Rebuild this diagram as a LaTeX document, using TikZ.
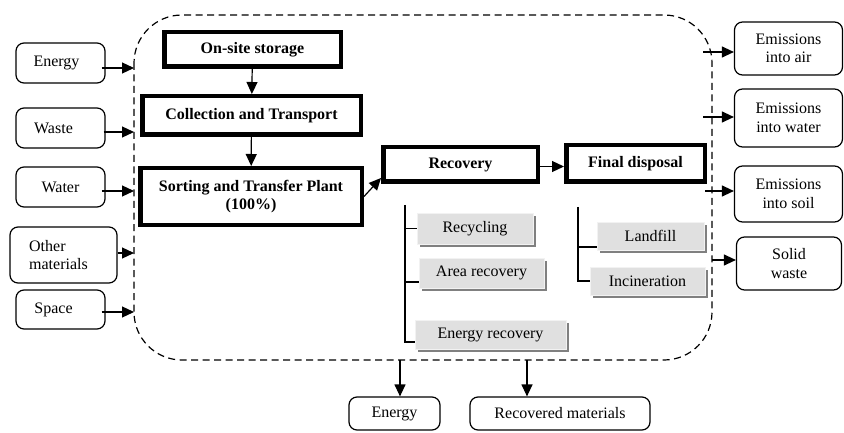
\documentclass[tikz,border=0pt]{standalone}
\usepackage{fontspec}
\setmainfont{Liberation Serif}
\usetikzlibrary{arrows.meta,calc,shadows}
\begin{document}
\begin{tikzpicture}[x=1pt,y=-1pt,
  every node/.style={font=\fontsize{16}{18.5}\selectfont},
  thickbox/.style={draw, line width=4.5pt, font=\fontsize{16}{18.5}\selectfont\bfseries, inner sep=0pt, align=center},
  inbox/.style={draw, line width=1.2pt, rounded corners=8pt, inner sep=0pt, align=center},
  graybox/.style={fill=black!12, draw=black!5, line width=0.8pt, inner sep=0pt, drop shadow={shadow xshift=3pt, shadow yshift=-3pt, fill=black!50, opacity=1}},
  arr/.style={line width=1.2pt, -{Triangle[length=12pt,width=11pt]}},
  tree/.style={line width=1.2pt}
]
\useasboundingbox (0,0) rectangle (844,433);
% system boundary
\draw[dash pattern=on 7pt off 4.5pt, line width=1.2pt, rounded corners=48pt] (134,15) rectangle (712,360);

% main process boxes
\node[thickbox, minimum width=176.5pt, minimum height=34.5pt] (onsite) at (252.5,49.5) {On-site storage};
\node[thickbox, minimum width=218.5pt, minimum height=38.5pt] (collect) at (251.5,115.5) {Collection and Transport};
\node[thickbox, minimum width=221.5pt, minimum height=56.5pt] (sort) at (251,196.5) {Sorting and Transfer Plant\\(100\%)};
\node[thickbox, minimum width=154.5pt, minimum height=34.5pt] (recov) at (460.5,164.5) {Recovery};
\node[thickbox, minimum width=138.5pt, minimum height=36.5pt] (final) at (635.5,163.5) {Final disposal};

\draw[arr] (onsite) -- (collect);
\draw[arr] (collect) -- (sort);
\draw[arr] (sort.east) -- ([yshift=6pt]recov.south west);
\draw[arr] ([yshift=-2pt]recov.east) -- ([yshift=-2pt]recov.east -| final.west);

% sub-options
\node[graybox, minimum width=116pt, minimum height=31pt] (recyc) at (475,228.5) {Recycling};
\node[graybox, minimum width=125pt, minimum height=30pt] (area) at (481.5,273) {Area recovery};
\node[graybox, minimum width=151pt, minimum height=29pt] (erec) at (490.5,334.5) {Energy recovery};
\node[graybox, minimum width=107pt, minimum height=28pt] (landf) at (650.5,236) {Landfill};
\node[graybox, minimum width=115pt, minimum height=28pt] (incin) at (647.5,281) {Incineration};

\coordinate (rtop) at (405,205);
\coordinate (ftop) at (578,207);
\draw[tree] (rtop) |- ([yshift=-7.5pt]erec.west);
\draw[tree] (rtop |- recyc.west) -- (recyc.west);
\draw[tree] ([yshift=-9pt]rtop |- area.west) -- ([yshift=-9pt]area.west);
\draw[tree] (ftop) |- (incin.west);
\draw[tree] ([yshift=-11pt]ftop |- landf.west) -- ([yshift=-11pt]landf.west);

% inputs
\node[inbox, minimum width=89pt, minimum height=40pt] (in1) at (60.5,63) {Energy\hspace*{8pt}};
\node[inbox, minimum width=89pt, minimum height=40pt] (in2) at (60.5,128) {Waste\hspace*{14pt}};
\node[inbox, minimum width=89pt, minimum height=40pt] (in3) at (60.5,187) {Water};
\node[inbox, minimum width=107pt, minimum height=56pt, align=left] (in4) at (63.5,255) {Other\\materials\hspace*{10pt}};
\node[inbox, minimum width=89pt, minimum height=39pt] (in5) at (60.5,309.5) {Space\hspace*{14pt}};

\coordinate (b1) at (134,68);
\coordinate (b2) at (134,132);
\coordinate (b3) at (134,191);
\coordinate (b4) at (134,253);
\coordinate (b5) at (134,312);
\draw[arr] ([xshift=-4pt]in1.east |- b1) -- (b1);
\draw[arr] ([xshift=-2pt]in2.east |- b2) -- (b2);
\draw[arr] ([xshift=-4pt]in3.east |- b3) -- (b3);
\draw[arr] (in4.east |- b4) -- (b4);
\draw[arr] ([xshift=-4pt]in5.east |- b5) -- (b5);

% outputs right
\node[inbox, minimum width=108pt, minimum height=53pt] (out1) at (788.5,48.5) {Emissions\\into air};
\node[inbox, minimum width=108pt, minimum height=58pt] (out2) at (788.5,118) {Emissions\\into water};
\node[inbox, minimum width=108pt, minimum height=56pt] (out3) at (788.5,194) {Emissions\\into soil};
\node[inbox, minimum width=105pt, minimum height=53pt] (out4) at (789,263.5) {Solid\\waste};

\coordinate (o1) at (703,52);
\coordinate (o2) at (703,117);
\coordinate (o3) at (705,191);
\coordinate (o4) at (712,260);
\draw[arr] (o1) -- (o1 -| out1.west);
\draw[arr] (o2) -- (o2 -| out2.west);
\draw[arr] (o3) -- (o3 -| out3.west);
\draw[arr] (o4) -- (o4 -| out4.west);

% outputs bottom
\node[inbox, minimum width=91pt, minimum height=33pt] (bo1) at (394.5,413.5) {Energy};
\node[inbox, minimum width=180pt, minimum height=33pt] (bo2) at (560,413.5) {Recovered materials};
\coordinate (d1) at (400,360);
\coordinate (d2) at (527,360);
\draw[arr] (d1) -- (d1 |- bo1.north);
\draw[arr] (d2) -- (d2 |- bo2.north);
\end{tikzpicture}
\end{document}
